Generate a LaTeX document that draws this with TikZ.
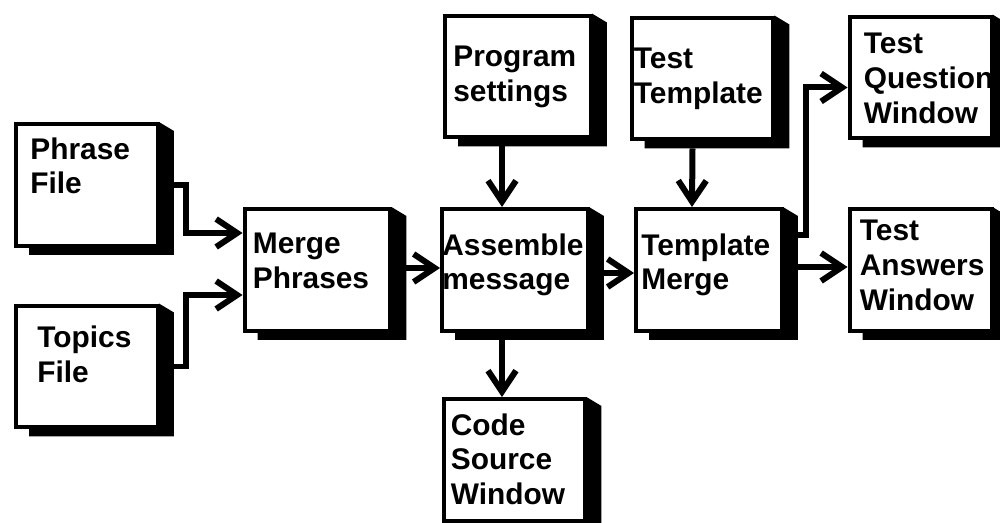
\documentclass[tikz,border=0pt]{standalone}
\usepackage{fontspec}
\setmainfont{Liberation Sans}
\usetikzlibrary{arrows.meta,calc}
\tikzset{%
  >={Straight Barb[length=0.42cm,width=0.56cm]},
  % Specifications for style of nodes:
     block/.style = {rectangle, draw=black, fill=white, line width=0.08cm,
                     minimum width=2.84cm, minimum height=2.44cm},
   blockwd/.style = {block, minimum width=2.92cm},
       txt/.style = {anchor=north west, inner sep=0pt, align=left,
                     font=\bfseries\fontsize{17}{19.9}\selectfont},
      flow/.style = {->, line width=0.12cm},
}
\begin{document}
\begin{tikzpicture}[x=0.02cm, y=-0.02cm]
  \useasboundingbox (0,0) rectangle (1000,523);
  % Specification of nodes (position, etc.)
  \node (phrase)    [block]   at (87,185)    {};
  \node (topics)    [block]   at (87,366.5)  {};
  \node (merge)     [blockwd] at (317.5,270) {};
  \node (assemble)  [blockwd] at (515,270)   {};
  \node (tmerge)    [blockwd] at (709,270)   {};
  \node (program)   [blockwd] at (518,76.5)  {};
  \node (ttemplate) [block]   at (702.5,78.5) {};
  \node (tquestion) [block]   at (920.5,77.5) {};
  \node (tanswers)  [block]   at (920.5,270) {};
  \node (code)      [block]   at (514.5,460) {};

  % shadows
  \foreach \n in {phrase,topics,merge,assemble,tmerge,program,ttemplate,
                  tquestion,tanswers,code}
    \fill ($(\n.north east)+(-1,0)$) -- ++(15,9)
      -- ($(\n.south east)+(14,7)$) -- ($(\n.south west)+(15,7)$)
      -- ($(\n.south west)+(15,-1)$) -- ($(\n.south east)+(-1,-1)$) -- cycle;

  % texts
  \node (phrase-t)    [txt] at ($(phrase.north west)+(16,15)$)    {Phrase\\File};
  \node (topics-t)    [txt] at ($(topics.north west)+(23,22)$)    {Topics\\File};
  \node (merge-t)     [txt] at ($(merge.north west)+(10,26)$)     {Merge\\Phrases};
  \node (assemble-t)  [txt] at ($(assemble.north west)+(2,26)$)   {Assemble\\message};
  \node (tmerge-t)    [txt] at ($(tmerge.north west)+(7,26)$)     {Template\\Merge};
  \node (program-t)   [txt] at ($(program.north west)+(10,32)$)   {Program\\settings};
  \node (ttemplate-t) [txt] at ($(ttemplate.north west)+(4,32)$)  {Test\\Template};
  \node (tquestion-t) [txt] at ($(tquestion.north west)+(16,18)$) {Test\\Question\\Window};
  \node (tanswers-t)  [txt] at ($(tanswers.north west)+(12,13)$)  {Test\\Answers\\Window};
  \node (code-t)      [txt] at ($(code.north west)+(9,16)$)       {Code\\Source\\Window};

  \draw[flow] ($(phrase.east)+(14,0)$) -- ++(12,0) |- ($(merge.west)+(0,-37)$);
  \draw[flow] ($(topics.east)+(14,0)$) -- ++(12,0) |- ($(merge.west)+(0,25)$);
  \draw[flow] ($(merge.east)+(14,-2)$) -- ($(assemble.west)+(0,-2)$);
  \draw[flow] ($(assemble.east)+(14,3)$) -- ($(tmerge.west)+(0,3)$);
  \draw[flow] ($(tmerge.east)+(14,-3)$) -- ($(tanswers.west)+(0,-3)$);
  \draw[flow] ($(tmerge.east)+(14,-35)$) -- ++(8,0) |- ($(tquestion.west)+(0,10)$);
  \draw[flow] ($(program.south)+(-16,7)$) -- ($(assemble.north)+(-13,0)$);
  \draw[flow] ($(ttemplate.south)+(-10,7)$) -- ($(tmerge.north)+(-17,0)$);
  \draw[flow] ($(assemble.south)+(-13,7)$) -- ($(code.north)+(-12.5,0)$);
\end{tikzpicture}
\end{document}
